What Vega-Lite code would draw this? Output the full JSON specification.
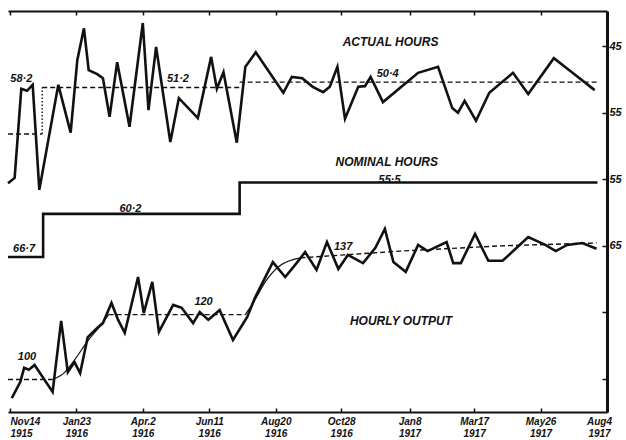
{
  "$schema": "https://vega.github.io/schema/vega-lite/v6.json",
  "width": 599,
  "height": 401,
  "autosize": {"type": "none"},
  "padding": {"left": 8, "top": 11, "right": 19, "bottom": 28},
  "background": "white",
  "config": {
    "view": {"stroke": null},
    "text": {"font": "Liberation Sans", "fontWeight": "bold", "fontStyle": "italic", "color": "#111"}
  },
  "datasets": {
    "actual": [
      {"date": "1915-11-12", "hours": 65.6}, {"date": "1915-11-19", "hours": 64.8},
      {"date": "1915-11-26", "hours": 51.4}, {"date": "1915-12-02", "hours": 51.7},
      {"date": "1915-12-08", "hours": 50.8}, {"date": "1915-12-15", "hours": 66.6},
      {"date": "1916-01-04", "hours": 50.8}, {"date": "1916-01-17", "hours": 58.0},
      {"date": "1916-01-24", "hours": 47.1}, {"date": "1916-01-31", "hours": 42.3},
      {"date": "1916-02-05", "hours": 48.6}, {"date": "1916-02-14", "hours": 49.2},
      {"date": "1916-02-20", "hours": 49.8}, {"date": "1916-02-27", "hours": 55.6},
      {"date": "1916-03-06", "hours": 47.4}, {"date": "1916-03-19", "hours": 57.1},
      {"date": "1916-04-02", "hours": 41.5}, {"date": "1916-04-08", "hours": 54.6},
      {"date": "1916-04-16", "hours": 45.1}, {"date": "1916-05-01", "hours": 59.4},
      {"date": "1916-05-10", "hours": 52.8}, {"date": "1916-05-30", "hours": 55.8},
      {"date": "1916-06-13", "hours": 46.6}, {"date": "1916-06-19", "hours": 51.4},
      {"date": "1916-06-26", "hours": 48.9}, {"date": "1916-07-10", "hours": 59.5},
      {"date": "1916-07-19", "hours": 48.1}, {"date": "1916-07-30", "hours": 45.9},
      {"date": "1916-08-28", "hours": 52.0}, {"date": "1916-09-06", "hours": 49.6},
      {"date": "1916-09-17", "hours": 49.8}, {"date": "1916-09-28", "hours": 51.1},
      {"date": "1916-10-09", "hours": 51.9}, {"date": "1916-10-16", "hours": 51.1},
      {"date": "1916-10-24", "hours": 48.1}, {"date": "1916-11-01", "hours": 55.9},
      {"date": "1916-11-15", "hours": 51.1}, {"date": "1916-11-22", "hours": 51.0},
      {"date": "1916-11-28", "hours": 49.6}, {"date": "1916-12-11", "hours": 53.4},
      {"date": "1917-01-17", "hours": 49.0}, {"date": "1917-02-07", "hours": 48.1},
      {"date": "1917-02-22", "hours": 54.3}, {"date": "1917-02-28", "hours": 55.0},
      {"date": "1917-03-07", "hours": 53.2}, {"date": "1917-03-19", "hours": 56.2},
      {"date": "1917-04-02", "hours": 52.0}, {"date": "1917-04-27", "hours": 49.0},
      {"date": "1917-05-13", "hours": 52.2}, {"date": "1917-06-09", "hours": 46.8},
      {"date": "1917-06-28", "hours": 48.9}, {"date": "1917-07-22", "hours": 51.6}
    ],
    "actualAvg": [
      {"start": "1915-11-12", "end": "1915-12-18", "hours": 58.2},
      {"start": "1915-12-18", "end": "1916-07-13", "hours": 51.2},
      {"start": "1916-07-13", "end": "1917-07-25", "hours": 50.4}
    ],
    "actualJoin": [{"date": "1915-12-18", "hours": 58.2, "hours2": 51.2}],
    "actualLabels": [
      {"date": "1915-11-26", "hours": 49.9, "label": "58·2"},
      {"date": "1916-05-09", "hours": 49.9, "label": "51·2"},
      {"date": "1916-12-16", "hours": 49.2, "label": "50·4"}
    ],
    "actualTitle": [{"date": "1916-12-19", "hours": 44.4, "label": "ACTUAL HOURS"}],
    "nominal": [
      {"date": "1915-11-12", "hours": 66.7},
      {"date": "1915-12-19", "hours": 60.2},
      {"date": "1916-07-13", "hours": 55.5},
      {"date": "1917-07-25", "hours": 55.5}
    ],
    "nominalLabels": [
      {"date": "1916-12-18", "hours": 55.1, "label": "55·5"},
      {"date": "1916-03-20", "hours": 59.5, "label": "60·2"},
      {"date": "1915-11-29", "hours": 65.5, "label": "66·7"}
    ],
    "nominalTitle": [{"date": "1916-12-15", "hours": 52.4, "label": "NOMINAL HOURS"}],
    "output": [
      {"date": "1915-11-16", "index": 94.3}, {"date": "1915-11-25", "index": 99.3},
      {"date": "1915-11-29", "index": 103.6}, {"date": "1915-12-04", "index": 103.0},
      {"date": "1915-12-10", "index": 104.5}, {"date": "1915-12-29", "index": 96.2},
      {"date": "1916-01-07", "index": 118.1}, {"date": "1916-01-14", "index": 102.3},
      {"date": "1916-01-21", "index": 105.4}, {"date": "1916-01-27", "index": 102.0},
      {"date": "1916-02-04", "index": 113.1}, {"date": "1916-02-14", "index": 115.9},
      {"date": "1916-02-20", "index": 117.4}, {"date": "1916-02-29", "index": 123.6},
      {"date": "1916-03-07", "index": 118.4}, {"date": "1916-03-14", "index": 114.4},
      {"date": "1916-03-28", "index": 131.6}, {"date": "1916-04-03", "index": 120.5},
      {"date": "1916-04-12", "index": 130.1}, {"date": "1916-04-19", "index": 114.7},
      {"date": "1916-05-04", "index": 123.0}, {"date": "1916-05-13", "index": 122.1},
      {"date": "1916-05-25", "index": 117.4}, {"date": "1916-06-01", "index": 120.8},
      {"date": "1916-06-10", "index": 118.4}, {"date": "1916-06-22", "index": 121.4},
      {"date": "1916-07-06", "index": 112.2}, {"date": "1916-07-21", "index": 119.3},
      {"date": "1916-07-29", "index": 125.1}, {"date": "1916-08-17", "index": 136.2},
      {"date": "1916-08-30", "index": 131.6}, {"date": "1916-09-11", "index": 135.9},
      {"date": "1916-09-20", "index": 139.3}, {"date": "1916-10-02", "index": 133.8},
      {"date": "1916-10-13", "index": 142.4}, {"date": "1916-10-25", "index": 134.1},
      {"date": "1916-11-04", "index": 138.4}, {"date": "1916-11-20", "index": 135.9},
      {"date": "1916-12-03", "index": 140.6}, {"date": "1916-12-13", "index": 146.4},
      {"date": "1916-12-22", "index": 136.2}, {"date": "1917-01-04", "index": 133.2},
      {"date": "1917-01-17", "index": 141.5}, {"date": "1917-01-27", "index": 139.6},
      {"date": "1917-02-16", "index": 142.4}, {"date": "1917-02-23", "index": 135.9},
      {"date": "1917-03-03", "index": 135.9}, {"date": "1917-03-18", "index": 144.9},
      {"date": "1917-04-01", "index": 136.6}, {"date": "1917-04-16", "index": 136.6},
      {"date": "1917-05-13", "index": 143.9}, {"date": "1917-05-31", "index": 141.5},
      {"date": "1917-06-11", "index": 139.6}, {"date": "1917-06-23", "index": 141.5},
      {"date": "1917-07-09", "index": 142.1}, {"date": "1917-07-24", "index": 140.3}
    ],
    "trendDashed": [
      {"segment": "a", "date": "1915-11-12", "index": 100},
      {"segment": "a", "date": "1915-12-29", "index": 100},
      {"segment": "b", "date": "1916-02-26", "index": 120},
      {"segment": "b", "date": "1916-07-19", "index": 120},
      {"segment": "c", "date": "1916-09-15", "index": 137.5},
      {"segment": "c", "date": "1916-12-29", "index": 139.6},
      {"segment": "c", "date": "1917-04-13", "index": 141.2},
      {"segment": "c", "date": "1917-07-24", "index": 142.1}
    ],
    "trendCurve": [
      {"segment": "d", "date": "1915-12-29", "index": 100},
      {"segment": "d", "date": "1916-01-11", "index": 102.3},
      {"segment": "d", "date": "1916-01-21", "index": 106.0},
      {"segment": "d", "date": "1916-02-04", "index": 111.9},
      {"segment": "d", "date": "1916-02-17", "index": 116.5},
      {"segment": "d", "date": "1916-02-26", "index": 120},
      {"segment": "e", "date": "1916-07-19", "index": 120},
      {"segment": "e", "date": "1916-07-29", "index": 124.5},
      {"segment": "e", "date": "1916-08-09", "index": 130.1},
      {"segment": "e", "date": "1916-08-24", "index": 135.0},
      {"segment": "e", "date": "1916-09-15", "index": 137.5}
    ],
    "outputLabels": [
      {"date": "1915-12-02", "index": 106.9, "label": "100"},
      {"date": "1916-06-05", "index": 123.9, "label": "120"},
      {"date": "1916-10-30", "index": 140.9, "label": "137"}
    ],
    "outputTitle": [{"date": "1916-12-30", "index": 118.1, "label": "HOURLY OUTPUT"}]
  },
  "layer": [
    {
      "layer": [
        {
          "data": {"name": "actual"},
          "mark": {"type": "line", "color": "#111", "strokeWidth": 2.6},
          "encoding": {
            "x": {
              "field": "date", "type": "temporal",
              "scale": {"type": "utc", "domain": [{"year": 1915, "month": 11, "date": 12, "utc": true}, {"year": 1917, "month": 8, "date": 4, "utc": true}]},
              "axis": {
                "orient": "bottom", "title": null, "grid": false,
                "values": [
                  {"year": 1915, "month": 11, "date": 14, "utc": true},
                  {"year": 1916, "month": 1, "date": 23, "utc": true},
                  {"year": 1916, "month": 4, "date": 2, "utc": true},
                  {"year": 1916, "month": 6, "date": 11, "utc": true},
                  {"year": 1916, "month": 8, "date": 20, "utc": true},
                  {"year": 1916, "month": 10, "date": 28, "utc": true},
                  {"year": 1917, "month": 1, "date": 8, "utc": true},
                  {"year": 1917, "month": 3, "date": 17, "utc": true},
                  {"year": 1917, "month": 5, "date": 26, "utc": true},
                  {"year": 1917, "month": 8, "date": 4, "utc": true}
                ],
                "labelExpr": "[replace(utcFormat(datum.value, '%b%-d'), 'Apr', 'Apr.'), utcFormat(datum.value, '%Y')]",
                "labelFont": "Liberation Sans", "labelFontWeight": "bold", "labelFontStyle": "italic",
                "labelFontSize": 10, "labelColor": "#111", "labelLineHeight": 12,
                "labelFlush": true,
                "labelAlign": {"condition": {"test": "datum.index == 0", "value": "left"}, "value": "center"},
                "labelOffset": {"condition": {"test": "datum.index == 1", "value": -8}, "value": 0},
                "labelOverlap": false, "labelBound": false, "labelPadding": 8,
                "domainColor": "#111", "domainWidth": 2,
                "tickColor": "#111", "tickWidth": 1.5, "tickSize": -4
              }
            },
            "y": {
              "field": "hours", "type": "quantitative",
              "scale": {"domain": [39.7, 100], "reverse": true, "nice": false, "zero": false},
              "axis": {
                "orient": "right", "title": null, "grid": false,
                "values": [45, 55, 65, 75, 85, 95],
                "labelExpr": "datum.value == 45 ? '45' : datum.value == 55 ? '55' : datum.value == 65 ? '55' : datum.value == 75 ? '65' : ''",
                "labelFont": "Liberation Sans", "labelFontWeight": "bold", "labelFontStyle": "italic",
                "labelFontSize": 11, "labelColor": "#111", "labelPadding": 7,
                "domainColor": "#111", "domainWidth": 3,
                "tickColor": "#111", "tickWidth": 1.5, "tickSize": -5
              }
            }
          }
        },
        {
          "data": {"name": "actualAvg"},
          "mark": {"type": "rule", "color": "#111", "strokeWidth": 1.4, "strokeDash": [5, 3]},
          "encoding": {
            "x": {"field": "start", "type": "temporal", "scale": {"type": "utc", "domain": [{"year": 1915, "month": 11, "date": 12, "utc": true}, {"year": 1917, "month": 8, "date": 4, "utc": true}]}},
            "x2": {"field": "end"},
            "y": {"field": "hours", "type": "quantitative", "scale": {"domain": [39.7, 100], "reverse": true, "nice": false, "zero": false}}
          }
        },
        {
          "data": {"name": "actualJoin"},
          "mark": {"type": "rule", "color": "#111", "strokeWidth": 1.4, "strokeDash": [1.5, 2]},
          "encoding": {
            "x": {"field": "date", "type": "temporal", "scale": {"type": "utc", "domain": [{"year": 1915, "month": 11, "date": 12, "utc": true}, {"year": 1917, "month": 8, "date": 4, "utc": true}]}},
            "y": {"field": "hours", "type": "quantitative", "scale": {"domain": [39.7, 100], "reverse": true, "nice": false, "zero": false}},
            "y2": {"field": "hours2"}
          }
        },
        {
          "data": {"name": "actualLabels"},
          "mark": {"type": "text", "fontSize": 11, "align": "center", "baseline": "middle"},
          "encoding": {
            "x": {"field": "date", "type": "temporal", "scale": {"type": "utc", "domain": [{"year": 1915, "month": 11, "date": 12, "utc": true}, {"year": 1917, "month": 8, "date": 4, "utc": true}]}},
            "y": {"field": "hours", "type": "quantitative", "scale": {"domain": [39.7, 100], "reverse": true, "nice": false, "zero": false}},
            "text": {"field": "label"}
          }
        },
        {
          "data": {"name": "actualTitle"},
          "mark": {"type": "text", "fontSize": 12, "align": "center", "baseline": "middle"},
          "encoding": {
            "x": {"field": "date", "type": "temporal", "scale": {"type": "utc", "domain": [{"year": 1915, "month": 11, "date": 12, "utc": true}, {"year": 1917, "month": 8, "date": 4, "utc": true}]}},
            "y": {"field": "hours", "type": "quantitative", "scale": {"domain": [39.7, 100], "reverse": true, "nice": false, "zero": false}},
            "text": {"field": "label"}
          }
        }
      ]
    },
    {
      "layer": [
        {
          "data": {"name": "nominal"},
          "mark": {"type": "line", "color": "#111", "strokeWidth": 2.6, "interpolate": "step-after"},
          "encoding": {
            "x": {
              "field": "date", "type": "temporal",
              "scale": {"type": "utc", "domain": [{"year": 1915, "month": 11, "date": 12, "utc": true}, {"year": 1917, "month": 8, "date": 4, "utc": true}]},
              "axis": {
                "orient": "top", "title": null, "grid": false, "labels": false,
                "values": [
                  {"year": 1915, "month": 11, "date": 14, "utc": true},
                  {"year": 1916, "month": 1, "date": 23, "utc": true},
                  {"year": 1916, "month": 4, "date": 2, "utc": true},
                  {"year": 1916, "month": 6, "date": 11, "utc": true},
                  {"year": 1916, "month": 8, "date": 20, "utc": true},
                  {"year": 1916, "month": 10, "date": 28, "utc": true},
                  {"year": 1917, "month": 1, "date": 8, "utc": true},
                  {"year": 1917, "month": 3, "date": 17, "utc": true},
                  {"year": 1917, "month": 5, "date": 26, "utc": true}
                ],
                "domainColor": "#111", "domainWidth": 2,
                "tickColor": "#111", "tickWidth": 1.5, "tickSize": -4
              }
            },
            "y": {"field": "hours", "type": "quantitative", "scale": {"domain": [29.7, 90], "reverse": true, "nice": false, "zero": false}, "axis": null}
          }
        },
        {
          "data": {"name": "nominalLabels"},
          "mark": {"type": "text", "fontSize": 11, "align": "center", "baseline": "middle"},
          "encoding": {
            "x": {"field": "date", "type": "temporal", "scale": {"type": "utc", "domain": [{"year": 1915, "month": 11, "date": 12, "utc": true}, {"year": 1917, "month": 8, "date": 4, "utc": true}]}},
            "y": {"field": "hours", "type": "quantitative", "scale": {"domain": [29.7, 90], "reverse": true, "nice": false, "zero": false}},
            "text": {"field": "label"}
          }
        },
        {
          "data": {"name": "nominalTitle"},
          "mark": {"type": "text", "fontSize": 12, "align": "center", "baseline": "middle"},
          "encoding": {
            "x": {"field": "date", "type": "temporal", "scale": {"type": "utc", "domain": [{"year": 1915, "month": 11, "date": 12, "utc": true}, {"year": 1917, "month": 8, "date": 4, "utc": true}]}},
            "y": {"field": "hours", "type": "quantitative", "scale": {"domain": [29.7, 90], "reverse": true, "nice": false, "zero": false}},
            "text": {"field": "label"}
          }
        }
      ]
    },
    {
      "layer": [
        {
          "data": {"name": "output"},
          "mark": {"type": "line", "color": "#111", "strokeWidth": 2.6},
          "encoding": {
            "x": {"field": "date", "type": "temporal", "scale": {"type": "utc", "domain": [{"year": 1915, "month": 11, "date": 12, "utc": true}, {"year": 1917, "month": 8, "date": 4, "utc": true}]}, "axis": null},
            "y": {"field": "index", "type": "quantitative", "scale": {"domain": [90, 213.6], "nice": false, "zero": false}, "axis": null}
          }
        },
        {
          "data": {"name": "trendDashed"},
          "mark": {"type": "line", "color": "#111", "strokeWidth": 1.4, "strokeDash": [5, 3]},
          "encoding": {
            "x": {"field": "date", "type": "temporal", "scale": {"type": "utc", "domain": [{"year": 1915, "month": 11, "date": 12, "utc": true}, {"year": 1917, "month": 8, "date": 4, "utc": true}]}},
            "y": {"field": "index", "type": "quantitative", "scale": {"domain": [90, 213.6], "nice": false, "zero": false}},
            "detail": {"field": "segment"}
          }
        },
        {
          "data": {"name": "trendCurve"},
          "mark": {"type": "line", "color": "#111", "strokeWidth": 1.2, "interpolate": "monotone"},
          "encoding": {
            "x": {"field": "date", "type": "temporal", "scale": {"type": "utc", "domain": [{"year": 1915, "month": 11, "date": 12, "utc": true}, {"year": 1917, "month": 8, "date": 4, "utc": true}]}},
            "y": {"field": "index", "type": "quantitative", "scale": {"domain": [90, 213.6], "nice": false, "zero": false}},
            "detail": {"field": "segment"}
          }
        },
        {
          "data": {"name": "outputLabels"},
          "mark": {"type": "text", "fontSize": 11, "align": "center", "baseline": "middle"},
          "encoding": {
            "x": {"field": "date", "type": "temporal", "scale": {"type": "utc", "domain": [{"year": 1915, "month": 11, "date": 12, "utc": true}, {"year": 1917, "month": 8, "date": 4, "utc": true}]}},
            "y": {"field": "index", "type": "quantitative", "scale": {"domain": [90, 213.6], "nice": false, "zero": false}},
            "text": {"field": "label"}
          }
        },
        {
          "data": {"name": "outputTitle"},
          "mark": {"type": "text", "fontSize": 12, "align": "center", "baseline": "middle"},
          "encoding": {
            "x": {"field": "date", "type": "temporal", "scale": {"type": "utc", "domain": [{"year": 1915, "month": 11, "date": 12, "utc": true}, {"year": 1917, "month": 8, "date": 4, "utc": true}]}},
            "y": {"field": "index", "type": "quantitative", "scale": {"domain": [90, 213.6], "nice": false, "zero": false}},
            "text": {"field": "label"}
          }
        }
      ]
    }
  ],
  "resolve": {"scale": {"y": "independent"}, "axis": {"x": "independent"}}
}
